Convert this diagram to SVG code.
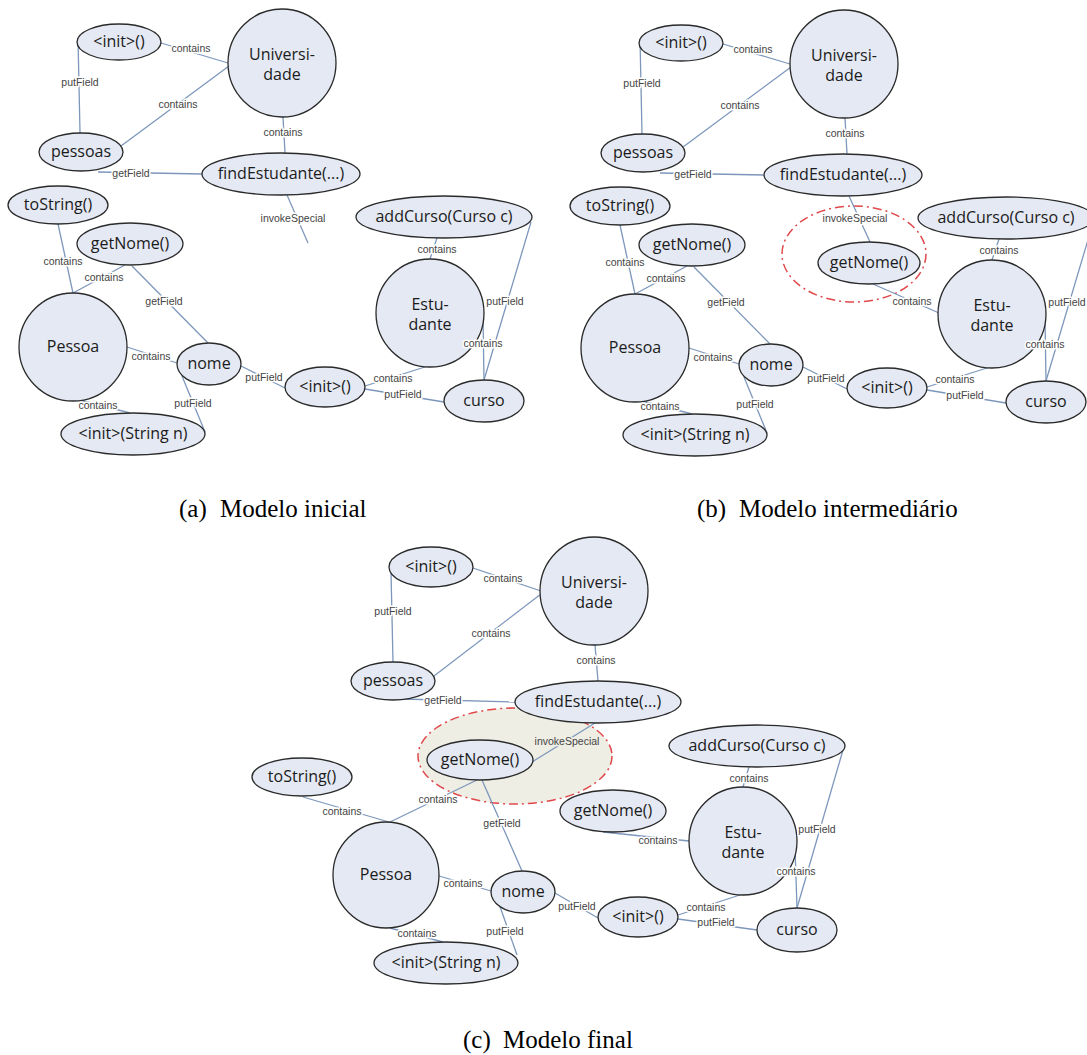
<svg xmlns="http://www.w3.org/2000/svg" width="1087" height="1055" viewBox="0 0 1087 1055">
<style>
.n{fill:#E4E9F3;stroke:#2a2a2a;stroke-width:1.3}
.t{font-family:"Open Sans","Liberation Sans",sans-serif;font-size:16px;fill:#1b1b1b;text-anchor:middle}
.e{stroke:#7D97BC;stroke-width:1.3;fill:none}
.l{font-family:"Liberation Sans",Arial,sans-serif;font-size:10.5px;fill:#444;text-anchor:middle;paint-order:stroke;stroke:#fff;stroke-width:3px;stroke-linejoin:round}
.lb{stroke:#EEEEE4}
.hl{stroke:#E0484B;stroke-width:1.5;stroke-dasharray:9 4 2 4}
.cap{font-family:"Liberation Serif","Times New Roman",serif;font-size:25px;fill:#000}
</style>
<rect width="1087" height="1055" fill="#fff"/>

<!-- ===== Panel (a) ===== -->
<g id="panel-a">
<g id="a-connectors">
<line class="e" x1="161" y1="43" x2="228" y2="63"/>
<line class="e" x1="78" y1="38" x2="80" y2="133"/>
<line class="e" x1="121" y1="146" x2="229" y2="66"/>
<line class="e" x1="283" y1="117" x2="285" y2="153"/>
<line class="e" x1="98" y1="172" x2="202" y2="174"/>
<line class="e" x1="287" y1="195" x2="308" y2="243"/>
<line class="e" x1="58" y1="224" x2="73" y2="293"/>
<line class="e" x1="125" y1="265" x2="73" y2="293"/>
<line class="e" x1="132" y1="266" x2="208" y2="343"/>
<line class="e" x1="127" y1="347" x2="177" y2="363"/>
<line class="e" x1="241" y1="366" x2="285" y2="388"/>
<line class="e" x1="182" y1="376" x2="205" y2="432"/>
<line class="e" x1="80" y1="400" x2="130" y2="413"/>
<line class="e" x1="437" y1="238" x2="430" y2="259"/>
<line class="e" x1="531" y1="222" x2="484" y2="380"/>
<line class="e" x1="483" y1="318" x2="484" y2="380"/>
<line class="e" x1="428" y1="366" x2="365" y2="386"/>
<line class="e" x1="365" y1="389" x2="444" y2="402"/>
</g>
<g id="a-init1"><ellipse class="n" cx="119" cy="42" rx="42" ry="18"/><text class="t" x="119" y="47">&lt;init&gt;()</text></g>
<g id="a-universidade"><circle class="n" cx="282" cy="63" r="54"/><text class="t" x="282" y="60">Universi-</text><text class="t" x="282" y="80">dade</text></g>
<g id="a-pessoas"><ellipse class="n" cx="81" cy="152" rx="42" ry="19"/><text class="t" x="81" y="157">pessoas</text></g>
<g id="a-findEstudante"><ellipse class="n" cx="281" cy="174" rx="79" ry="21"/><text class="t" x="281" y="179">findEstudante(...)</text></g>
<g id="a-toString"><ellipse class="n" cx="58" cy="205" rx="50" ry="19"/><text class="t" x="58" y="210">toString()</text></g>
<g id="a-getNome"><ellipse class="n" cx="130" cy="244" rx="53" ry="21"/><text class="t" x="130" y="249">getNome()</text></g>
<g id="a-pessoa"><circle class="n" cx="73" cy="347" r="54"/><text class="t" x="73" y="352">Pessoa</text></g>
<g id="a-nome"><ellipse class="n" cx="209" cy="364" rx="32" ry="21"/><text class="t" x="209" y="369">nome</text></g>
<g id="a-init2"><ellipse class="n" cx="325" cy="387" rx="40" ry="20"/><text class="t" x="325" y="392">&lt;init&gt;()</text></g>
<g id="a-initString"><ellipse class="n" cx="133" cy="434" rx="72" ry="21"/><text class="t" x="133" y="439">&lt;init&gt;(String n)</text></g>
<g id="a-addCurso"><ellipse class="n" cx="444" cy="217" rx="88" ry="21"/><text class="t" x="444" y="222">addCurso(Curso c)</text></g>
<g id="a-estudante"><circle class="n" cx="430" cy="313" r="54"/><text class="t" x="430" y="310">Estu-</text><text class="t" x="430" y="330">dante</text></g>
<g id="a-curso"><ellipse class="n" cx="484" cy="401" rx="40" ry="21"/><text class="t" x="484" y="406">curso</text></g>
<g id="a-connector-labels">
<text class="l" x="191" y="52">contains</text>
<text class="l" x="80" y="86">putField</text>
<text class="l" x="178" y="108">contains</text>
<text class="l" x="283" y="136">contains</text>
<text class="l" x="131" y="177">getField</text>
<text class="l" x="293" y="222">invokeSpecial</text>
<text class="l" x="63" y="265">contains</text>
<text class="l" x="104" y="281">contains</text>
<text class="l" x="164" y="305">getField</text>
<text class="l" x="151" y="360">contains</text>
<text class="l" x="264" y="381">putField</text>
<text class="l" x="193" y="407">putField</text>
<text class="l" x="98" y="409">contains</text>
<text class="l" x="437" y="253">contains</text>
<text class="l" x="505" y="305">putField</text>
<text class="l" x="483" y="347">contains</text>
<text class="l" x="393" y="382">contains</text>
<text class="l" x="403" y="398">putField</text>
</g>
</g>

<!-- ===== Panel (b) ===== -->
<g id="panel-b" transform="translate(562,1)">
<g id="b-highlight"><ellipse class="hl" cx="292" cy="253" rx="72" ry="48" fill="none"/></g>
<g id="b-connectors">
<line class="e" x1="161" y1="43" x2="228" y2="63"/>
<line class="e" x1="78" y1="38" x2="80" y2="133"/>
<line class="e" x1="121" y1="146" x2="229" y2="66"/>
<line class="e" x1="283" y1="117" x2="285" y2="153"/>
<line class="e" x1="98" y1="172" x2="202" y2="174"/>
<line class="e" x1="287" y1="195" x2="308" y2="241"/>
<line class="e" x1="58" y1="224" x2="73" y2="293"/>
<line class="e" x1="125" y1="265" x2="73" y2="293"/>
<line class="e" x1="132" y1="266" x2="208" y2="343"/>
<line class="e" x1="127" y1="347" x2="177" y2="363"/>
<line class="e" x1="241" y1="366" x2="285" y2="388"/>
<line class="e" x1="182" y1="376" x2="205" y2="432"/>
<line class="e" x1="80" y1="400" x2="130" y2="413"/>
<line class="e" x1="437" y1="238" x2="430" y2="259"/>
<line class="e" x1="531" y1="222" x2="484" y2="380"/>
<line class="e" x1="483" y1="318" x2="484" y2="380"/>
<line class="e" x1="428" y1="366" x2="365" y2="386"/>
<line class="e" x1="365" y1="389" x2="444" y2="402"/>
<line class="e" x1="311" y1="283" x2="377" y2="312"/>
</g>
<g id="b-init1"><ellipse class="n" cx="119" cy="42" rx="42" ry="18"/><text class="t" x="119" y="47">&lt;init&gt;()</text></g>
<g id="b-universidade"><circle class="n" cx="282" cy="63" r="54"/><text class="t" x="282" y="60">Universi-</text><text class="t" x="282" y="80">dade</text></g>
<g id="b-pessoas"><ellipse class="n" cx="81" cy="152" rx="42" ry="19"/><text class="t" x="81" y="157">pessoas</text></g>
<g id="b-findEstudante"><ellipse class="n" cx="281" cy="174" rx="79" ry="21"/><text class="t" x="281" y="179">findEstudante(...)</text></g>
<g id="b-toString"><ellipse class="n" cx="58" cy="205" rx="50" ry="19"/><text class="t" x="58" y="210">toString()</text></g>
<g id="b-getNome"><ellipse class="n" cx="130" cy="244" rx="53" ry="21"/><text class="t" x="130" y="249">getNome()</text></g>
<g id="b-getNome2"><ellipse class="n" cx="307" cy="262" rx="51" ry="21"/><text class="t" x="307" y="267">getNome()</text></g>
<g id="b-pessoa"><circle class="n" cx="73" cy="347" r="54"/><text class="t" x="73" y="352">Pessoa</text></g>
<g id="b-nome"><ellipse class="n" cx="209" cy="364" rx="32" ry="21"/><text class="t" x="209" y="369">nome</text></g>
<g id="b-init2"><ellipse class="n" cx="325" cy="387" rx="40" ry="20"/><text class="t" x="325" y="392">&lt;init&gt;()</text></g>
<g id="b-initString"><ellipse class="n" cx="133" cy="434" rx="72" ry="21"/><text class="t" x="133" y="439">&lt;init&gt;(String n)</text></g>
<g id="b-addCurso"><ellipse class="n" cx="444" cy="217" rx="88" ry="21"/><text class="t" x="444" y="222">addCurso(Curso c)</text></g>
<g id="b-estudante"><circle class="n" cx="430" cy="313" r="54"/><text class="t" x="430" y="310">Estu-</text><text class="t" x="430" y="330">dante</text></g>
<g id="b-curso"><ellipse class="n" cx="484" cy="401" rx="40" ry="21"/><text class="t" x="484" y="406">curso</text></g>
<g id="b-connector-labels">
<text class="l" x="191" y="52">contains</text>
<text class="l" x="80" y="86">putField</text>
<text class="l" x="178" y="108">contains</text>
<text class="l" x="283" y="136">contains</text>
<text class="l" x="131" y="177">getField</text>
<text class="l" x="293" y="221">invokeSpecial</text>
<text class="l" x="63" y="265">contains</text>
<text class="l" x="104" y="281">contains</text>
<text class="l" x="164" y="305">getField</text>
<text class="l" x="151" y="360">contains</text>
<text class="l" x="264" y="381">putField</text>
<text class="l" x="193" y="407">putField</text>
<text class="l" x="98" y="409">contains</text>
<text class="l" x="437" y="253">contains</text>
<text class="l" x="505" y="305">putField</text>
<text class="l" x="483" y="347">contains</text>
<text class="l" x="393" y="382">contains</text>
<text class="l" x="403" y="398">putField</text>
<text class="l" x="350" y="304">contains</text>
</g>
</g>

<!-- ===== Panel (c) ===== -->
<g id="panel-c">
<g id="c-highlight"><ellipse class="hl" cx="515" cy="756" rx="97" ry="48" fill="#EEEEE4"/></g>
<g id="c-connectors">
<line class="e" x1="473" y1="568" x2="541" y2="591"/>
<line class="e" x1="391" y1="572" x2="393" y2="662"/>
<line class="e" x1="434" y1="676" x2="541" y2="594"/>
<line class="e" x1="595" y1="645" x2="598" y2="681"/>
<line class="e" x1="402" y1="699" x2="515" y2="702"/>
<line class="e" x1="595" y1="723" x2="532" y2="762"/>
<line class="e" x1="303" y1="797" x2="389" y2="822"/>
<line class="e" x1="477" y1="780" x2="390" y2="822"/>
<line class="e" x1="482" y1="780" x2="522" y2="871"/>
<line class="e" x1="439" y1="876" x2="491" y2="891"/>
<line class="e" x1="555" y1="893" x2="598" y2="918"/>
<line class="e" x1="497" y1="898" x2="517" y2="955"/>
<line class="e" x1="390" y1="928" x2="443" y2="942"/>
<line class="e" x1="603" y1="832" x2="689" y2="841"/>
<line class="e" x1="749" y1="767" x2="743" y2="787"/>
<line class="e" x1="843" y1="750" x2="797" y2="908"/>
<line class="e" x1="795" y1="848" x2="797" y2="908"/>
<line class="e" x1="740" y1="895" x2="678" y2="915"/>
<line class="e" x1="678" y1="919" x2="757" y2="930"/>
</g>
<g id="c-init1"><ellipse class="n" cx="431" cy="567" rx="42" ry="20"/><text class="t" x="431" y="572">&lt;init&gt;()</text></g>
<g id="c-universidade"><circle class="n" cx="594" cy="591" r="54"/><text class="t" x="594" y="588">Universi-</text><text class="t" x="594" y="608">dade</text></g>
<g id="c-pessoas"><ellipse class="n" cx="393" cy="681" rx="42" ry="19"/><text class="t" x="393" y="686">pessoas</text></g>
<g id="c-findEstudante"><ellipse class="n" cx="598" cy="702" rx="83" ry="21"/><text class="t" x="598" y="707">findEstudante(...)</text></g>
<g id="c-getNome"><ellipse class="n" cx="480" cy="760" rx="53" ry="20"/><text class="t" x="480" y="765">getNome()</text></g>
<g id="c-toString"><ellipse class="n" cx="302" cy="777" rx="50" ry="19"/><text class="t" x="302" y="782">toString()</text></g>
<g id="c-pessoa"><circle class="n" cx="386" cy="875" r="53"/><text class="t" x="386" y="880">Pessoa</text></g>
<g id="c-nome"><ellipse class="n" cx="523" cy="892" rx="32" ry="21"/><text class="t" x="523" y="897">nome</text></g>
<g id="c-init2"><ellipse class="n" cx="638" cy="917" rx="40" ry="20"/><text class="t" x="638" y="922">&lt;init&gt;()</text></g>
<g id="c-initString"><ellipse class="n" cx="446" cy="963" rx="72" ry="21"/><text class="t" x="446" y="968">&lt;init&gt;(String n)</text></g>
<g id="c-getNome2"><ellipse class="n" cx="613" cy="811" rx="53" ry="21"/><text class="t" x="613" y="816">getNome()</text></g>
<g id="c-addCurso"><ellipse class="n" cx="757" cy="746" rx="88" ry="21"/><text class="t" x="757" y="751">addCurso(Curso c)</text></g>
<g id="c-estudante"><circle class="n" cx="743" cy="841" r="54"/><text class="t" x="743" y="838">Estu-</text><text class="t" x="743" y="858">dante</text></g>
<g id="c-curso"><ellipse class="n" cx="797" cy="930" rx="40" ry="22"/><text class="t" x="797" y="935">curso</text></g>
<g id="c-connector-labels">
<text class="l" x="503" y="582">contains</text>
<text class="l" x="393" y="615">putField</text>
<text class="l" x="491" y="637">contains</text>
<text class="l" x="596" y="664">contains</text>
<text class="l" x="443" y="704">getField</text>
<text class="l lb" x="567" y="745">invokeSpecial</text>
<text class="l" x="342" y="815">contains</text>
<text class="l" x="438" y="803">contains</text>
<text class="l" x="502" y="827">getField</text>
<text class="l" x="463" y="887">contains</text>
<text class="l" x="577" y="910">putField</text>
<text class="l" x="505" y="935">putField</text>
<text class="l" x="417" y="937">contains</text>
<text class="l" x="658" y="844">contains</text>
<text class="l" x="749" y="782">contains</text>
<text class="l" x="817" y="833">putField</text>
<text class="l" x="796" y="875">contains</text>
<text class="l" x="706" y="911">contains</text>
<text class="l" x="716" y="926">putField</text>
</g>
</g>

<!-- captions -->
<g id="captions">
<text class="cap" x="179" y="517">(a)</text><text class="cap" x="220" y="517">Modelo inicial</text>
<text class="cap" x="697" y="517">(b)</text><text class="cap" x="739" y="517">Modelo intermediário</text>
<text class="cap" x="463" y="1048">(c)</text><text class="cap" x="503" y="1048">Modelo final</text>
</g>
</svg>
